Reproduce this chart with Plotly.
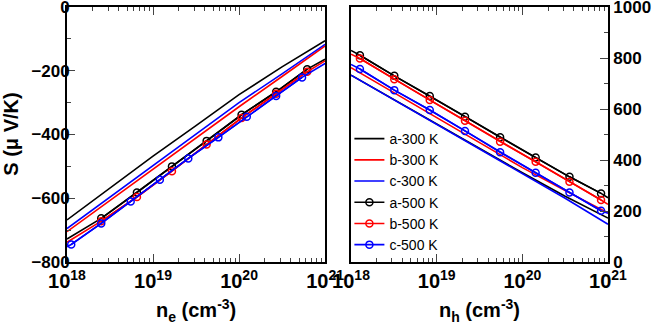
import plotly.graph_objects as go

# ---- electrons (left panel), S in uV/K ----
n_300 = [1e18, 3.16e18, 1e19, 3.16e19, 1e20, 3.16e20, 1e21]
S_e_a300 = [-668, -568, -468, -372, -275, -188, -106]
S_e_b300 = [-705, -607, -509, -411, -313, -218, -122]
S_e_c300 = [-695, -596, -497, -398, -300, -210, -117]

# 500 K curves: first/last points are the curve ends, the rest carry symbols
n_e_ab500 = [1e18, 2.5e18, 6.5e18, 1.66e19, 4.2e19, 1.07e20, 2.7e20, 6.2e20, 1e21]
S_e_a500 = [-728, -663, -582, -500, -420, -338, -266, -195, -164]
S_e_b500 = [-738, -672, -596, -515, -431, -348, -272, -203, -169]
n_e_c500 = [1.0e18, 1.12e18, 2.5e18, 5.5e18, 1.2e19, 2.57e19, 5.75e19, 1.23e20, 2.7e20, 5.4e20, 1e21]
S_e_c500 = [-752, -745, -679, -610, -542, -475, -409, -344, -279, -221, -177]

# ---- holes (right panel) ----
S_h_a300 = [733, 637, 541, 445, 350, 258, 172]
S_h_b300 = [762, 664, 567, 468, 370, 280, 193]
S_h_c300 = [733, 637, 541, 445, 348, 250, 148]

n_h_500 = [1e18, 1.27e18, 3.2e18, 8.3e18, 2.14e19, 5.5e19, 1.43e20, 3.55e20, 8.3e20, 1e21]
S_h_a500 = [830, 811, 730, 651, 570, 489, 410, 334, 269, 252]
S_h_b500 = [815, 798, 717, 635, 554, 472, 393, 315, 243, 226]
S_h_c500 = [775, 757, 674, 596, 514, 430, 350, 273, 201, 191]

# x tick labels
x_tickvals = [1e18, 1e19, 1e20, 1e21]
x_ticktext = ["10<sup>18</sup>", "10<sup>19</sup>", "10<sup>20</sup>", "10<sup>21</sup>"]

BLACK, RED, BLUE = "#000000", "#ff0000", "#0000ff"
LW = 1.6

fig = go.Figure()


def add_300(x, y, color, name, xa, ya, legend):
    fig.add_trace(go.Scatter(x=x, y=y, mode="lines", name=name,
                             line=dict(color=color, width=LW),
                             xaxis=xa, yaxis=ya, showlegend=legend,
                             legendgroup=name))


def add_500(x, y, color, name, xa, ya, legend):
    # full curve
    fig.add_trace(go.Scatter(x=x, y=y, mode="lines", name=name,
                             line=dict(color=color, width=LW),
                             xaxis=xa, yaxis=ya, showlegend=False,
                             legendgroup=name))
    # symbols (ends of the curve have none)
    fig.add_trace(go.Scatter(x=x[1:-1], y=y[1:-1], mode="lines+markers", name=name,
                             line=dict(color=color, width=LW),
                             marker=dict(symbol="circle-open", size=7, color=color,
                                         line=dict(width=1.5, color=color)),
                             xaxis=xa, yaxis=ya, showlegend=legend,
                             legendgroup=name))


# left panel
add_300(n_300, S_e_a300, BLACK, "a-300 K", "x", "y", False)
add_300(n_300, S_e_b300, RED, "b-300 K", "x", "y", False)
add_300(n_300, S_e_c300, BLUE, "c-300 K", "x", "y", False)
add_500(n_e_ab500, S_e_a500, BLACK, "a-500 K", "x", "y", False)
add_500(n_e_ab500, S_e_b500, RED, "b-500 K", "x", "y", False)
add_500(n_e_c500, S_e_c500, BLUE, "c-500 K", "x", "y", False)

# right panel
add_300(n_300, S_h_a300, BLACK, "a-300 K", "x2", "y2", True)
add_300(n_300, S_h_b300, RED, "b-300 K", "x2", "y2", True)
add_300(n_300, S_h_c300, BLUE, "c-300 K", "x2", "y2", True)
add_500(n_h_500, S_h_a500, BLACK, "a-500 K", "x2", "y2", True)
add_500(n_h_500, S_h_b500, RED, "b-500 K", "x2", "y2", True)
add_500(n_h_500, S_h_c500, BLUE, "c-500 K", "x2", "y2", True)

minor_x = [k * 10.0 ** d for d in (18, 19, 20) for k in range(2, 10)]
FONT = "Liberation Sans, Arial, sans-serif"

xax = dict(type="log", range=[18, 21], tickmode="array",
           tickvals=x_tickvals, ticktext=x_ticktext, tickangle=0,
           ticks="inside", ticklen=8, tickwidth=1.3, mirror="ticks",
           showline=True, linewidth=1.8, linecolor="black",
           showgrid=False, zeroline=False, automargin=False,
           ticklabeloverflow="allow",
           tickfont=dict(family=FONT, size=20, color="black", weight="bold"),
           minor=dict(tickmode="array", tickvals=minor_x, ticks="inside",
                      ticklen=4, tickwidth=1.2, showgrid=False))
yax = dict(ticks="inside", ticklen=8, tickwidth=1.3, mirror=True,
           showline=True, linewidth=1.8, linecolor="black",
           showgrid=False, zeroline=False, dtick=200, automargin=False,
           ticklabeloverflow="allow",
           tickfont=dict(family=FONT, size=17, color="black", weight="bold"),
           minor=dict(dtick=100, ticks="inside", ticklen=4, tickwidth=1.2,
                      showgrid=False))

fig.update_layout(
    width=654, height=327,
    margin=dict(l=67, r=46, t=7, b=65),
    plot_bgcolor="white", paper_bgcolor="white",
    xaxis=dict(xax, domain=[0, 0.477], anchor="y"),
    yaxis=dict(yax, range=[-800, 0], anchor="x", ticklabelstandoff=-8),
    xaxis2=dict(xax, domain=[0.525, 1], anchor="y2"),
    yaxis2=dict(yax, range=[0, 1000], anchor="x2", side="right"),
    showlegend=True,
    legend=dict(x=0.522, y=0.545, xanchor="left", yanchor="top",
                bgcolor="rgba(0,0,0,0)", tracegroupgap=0,
                font=dict(family=FONT, size=14, color="black")),
    annotations=[
        dict(text="<b>S (μ V/K)</b>", textangle=-90, xref="paper", yref="paper",
             x=-0.105, y=0.5, xanchor="center", yanchor="middle", showarrow=False,
             font=dict(family=FONT, size=20, color="black")),
        dict(text="<b>n<sub>e</sub> (cm<sup>-3</sup>)</b>", xref="paper", yref="paper",
             x=0.238, y=-0.19, xanchor="center", yanchor="middle", showarrow=False,
             font=dict(family=FONT, size=20, color="black")),
        dict(text="<b>n<sub>h</sub> (cm<sup>-3</sup>)</b>", xref="paper", yref="paper",
             x=0.7625, y=-0.19, xanchor="center", yanchor="middle", showarrow=False,
             font=dict(family=FONT, size=20, color="black")),
    ],
)

# page body has a default 8px margin; drop it so the figure sits at the corner
fig.write_html("out.html", config={"displayModeBar": False},
               post_script="document.body.style.margin='0';document.body.style.padding='0';")
